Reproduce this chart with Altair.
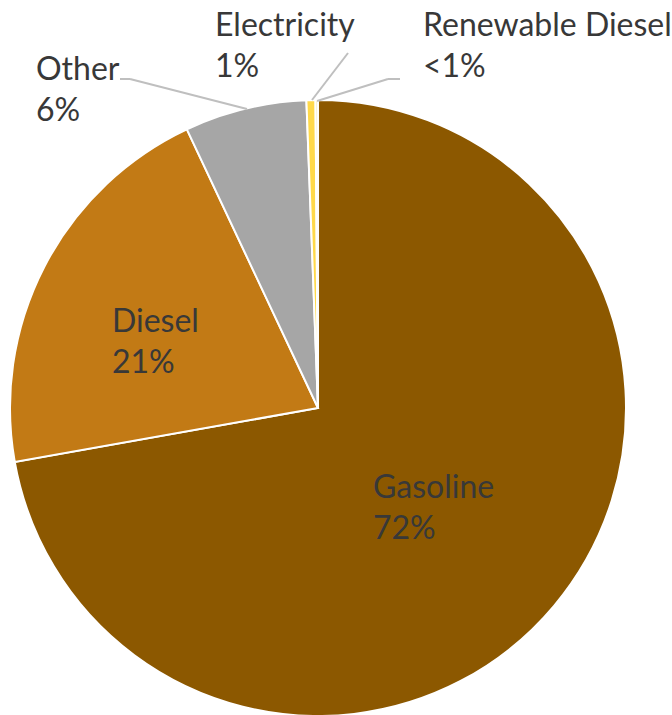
import altair as alt
import pandas as pd

# ---- data ----
categories = ["Gasoline", "Diesel", "Other", "Electricity", "Renewable Diesel"]
shares = [72.2, 20.8, 6.4, 0.47, 0.13]
share_labels = ["72%", "21%", "6%", "1%", "<1%"]
colors = ["#8C5800", "#C27A15", "#A6A6A6", "#FFD94A", "#F7E9A8"]

# ---- layout (annotation placement, pixels) ----
CX, CY, R = 318, 408, 308
label_x = [373, 112, 36, 215, 423]
label_y = [498, 332, 80, 36, 36]

# leader lines as point sequences per label
leaders = {
    "Other": [(120, 79), (130, 79), (247, 109)],
    "Electricity": [(348, 53), (312, 100)],
    "Renewable Diesel": [(400, 79), (388, 79), (317, 101)],
}

df = pd.DataFrame({
    "category": categories,
    "share": shares,
    "order": list(range(len(categories))),
})

lab = pd.DataFrame({
    "text": [f"{c}\n{p}" for c, p in zip(categories, share_labels)],
    "lx": label_x,
    "ly": label_y,
})

segs = []
for name, pts in leaders.items():
    for (x1, y1), (x2, y2) in zip(pts[:-1], pts[1:]):
        segs.append({"name": name, "x": x1, "y": y1, "x2": x2, "y2": y2})
seg_df = pd.DataFrame(segs)

pie = alt.Chart(df).mark_arc(
    outerRadius=R, stroke="white", strokeWidth=2
).encode(
    theta=alt.Theta("share:Q", stack=True),
    color=alt.Color("category:N", scale=alt.Scale(domain=categories, range=colors), legend=None),
    order=alt.Order("order:Q"),
    x=alt.value(CX),
    y=alt.value(CY),
)

lines = alt.Chart(seg_df).mark_rule(color="#BFBFBF", strokeWidth=2).encode(
    x=alt.X("x:Q", scale=None),
    y=alt.Y("y:Q", scale=None),
    x2="x2:Q",
    y2="y2:Q",
)

text = alt.Chart(lab).mark_text(
    align="left", baseline="alphabetic", lineBreak="\n", lineHeight=41,
    font="Lato", fontSize=32, color="#383838",
).encode(
    x=alt.X("lx:Q", scale=None),
    y=alt.Y("ly:Q", scale=None),
    text="text:N",
)

chart = alt.layer(pie, lines, text).properties(
    width=672, height=715, padding=0, autosize=alt.AutoSizeParams(type="none")
).configure_view(stroke=None)

chart.save("out.html", embed_options={"renderer": "svg", "actions": False})
